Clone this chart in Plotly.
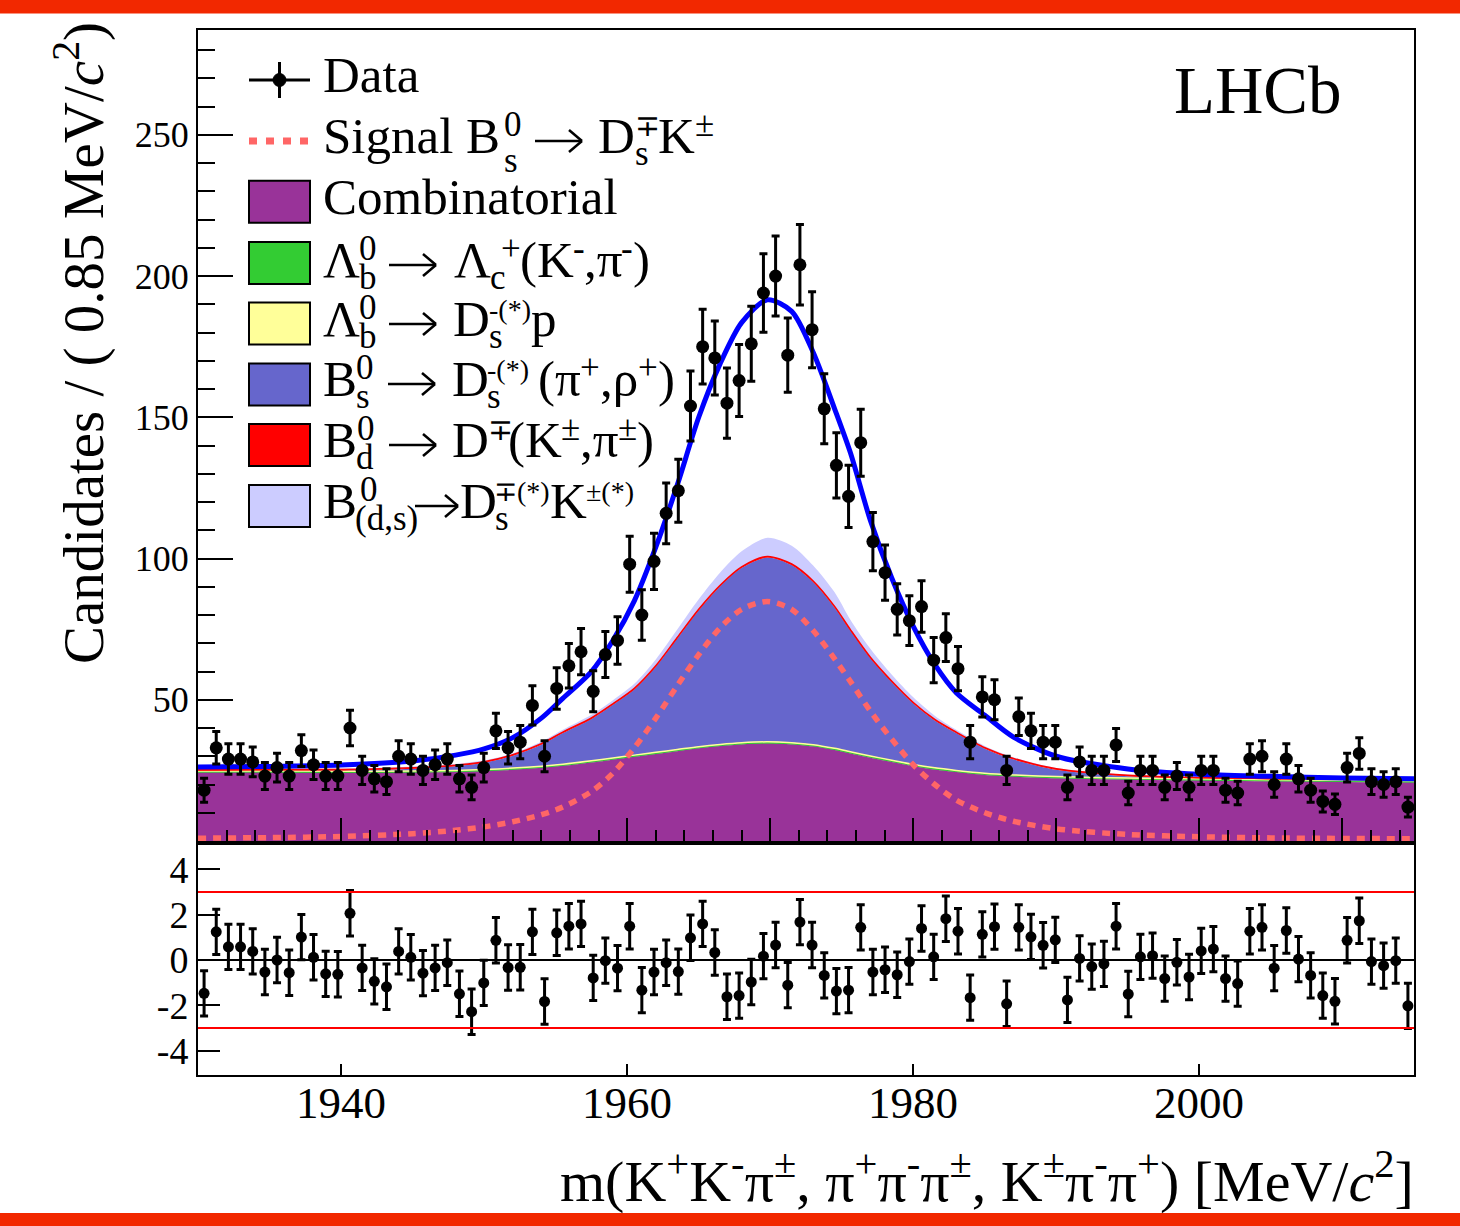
import numpy as np
import plotly.graph_objects as go

# ---------------- data ----------------
x_lo, x_hi, bin_w = 1930.0, 2015.0, 0.85
counts = [18, 33, 29, 29, 28, 23, 26, 23, 32, 27,
          23, 23, 40, 25, 22, 21, 30, 29, 25, 27,
          29, 22, 19, 26, 39, 33, 35, 48, 30, 54,
          62, 67, 53, 66, 71, 98, 80, 99, 116, 124,
          154, 175, 171, 155, 163, 176, 194, 200, 172, 204,
          181, 153, 133, 122, 141, 106, 95, 82, 78, 83,
          64, 72, 61, 35, 51, 50, 25, 44, 39, 35,
          35, 19, 28, 25, 25, 34, 17, 25, 25, 19,
          23, 19, 25, 25, 18, 17, 29, 30, 20, 29,
          22, 18, 14, 13, 26, 31, 21, 20, 21, 12]
pulls = [-1.47, 1.24, 0.58, 0.58, 0.38, -0.53, 0.00, -0.56, 1.01, 0.12,
         -0.61, -0.63, 2.06, -0.35, -0.94, -1.18, 0.38, 0.12, -0.58, -0.35,
         -0.12, -1.49, -2.28, -1.01, 0.87, -0.33, -0.32, 1.24, -1.83, 1.20,
         1.49, 1.59, -0.79, -0.03, -0.36, 1.49, -1.33, -0.53, -0.12, -0.51,
         0.98, 1.59, 0.33, -1.62, -1.57, -0.97, 0.17, 0.66, -1.11, 1.67,
         0.66, -0.68, -1.37, -1.33, 1.44, -0.53, -0.43, -0.65, -0.07, 1.39,
         0.14, 1.82, 1.27, -1.66, 1.13, 1.47, -1.93, 1.44, 1.02, 0.65,
         0.89, -1.76, 0.07, -0.29, -0.17, 1.49, -1.50, 0.14, 0.19, -0.82,
         -0.10, -0.75, 0.40, 0.48, -0.82, -1.04, 1.27, 1.44, -0.36, 1.30,
         0.04, -0.68, -1.57, -1.82, 0.87, 1.73, -0.07, -0.25, -0.03, -2.02]
bin_centers = x_lo + bin_w * (np.arange(len(counts)) + 0.5)

# fitted model components, read at these masses
curve_m = [1930, 1935, 1940, 1945, 1948, 1950, 1952, 1954, 1955.5, 1957.5,
           1959, 1960.5, 1962, 1963.5, 1965, 1966.5, 1968, 1969.8, 1971.5, 1973,
           1974.5, 1975.6, 1977, 1978.5, 1980, 1981.5, 1983, 1985, 1987, 1990,
           1995, 2000, 2005, 2010, 2015]
comb = [24.2, 24.2, 24.1, 24.2, 24.4, 24.7, 25.2, 25.9, 26.6, 27.8,
        28.8, 29.8, 30.8, 31.8, 32.8, 33.6, 34.2, 34.5, 34.2, 33.5,
        32.2, 31.0, 29.5, 28.0, 26.5, 25.3, 24.4, 23.4, 22.8, 22.2,
        21.7, 21.4, 21.1, 20.9, 20.7]
lb_lc = [0.3, 0.3, 0.3, 0.3, 0.3, 0.3, 0.3, 0.3, 0.3, 0.3,
         0.3, 0.3, 0.3, 0.3, 0.3, 0.3, 0.3, 0.3, 0.3, 0.3,
         0.3, 0.3, 0.3, 0.3, 0.3, 0.3, 0.3, 0.3, 0.3, 0.3,
         0.3, 0.3, 0.3, 0.3, 0.3]
lb_dsp = [0.3, 0.3, 0.3, 0.3, 0.3, 0.3, 0.3, 0.3, 0.3, 0.3,
          0.3, 0.3, 0.3, 0.3, 0.3, 0.3, 0.3, 0.3, 0.3, 0.3,
          0.3, 0.3, 0.3, 0.3, 0.3, 0.3, 0.3, 0.3, 0.3, 0.3,
          0.3, 0.3, 0.3, 0.3, 0.3]
bs_dspi = [0.1, 0.2, 0.3, 0.8, 1.5, 2.4, 4.4, 7.6, 11.0, 14.8,
           18.8, 23.3, 30.3, 39.3, 48.3, 56.0, 61.9, 65.3, 62.9, 57.6,
           49.9, 42.9, 34.6, 27.6, 21.6, 16.8, 13.2, 8.7, 5.5, 2.4,
           0.6, 0.1, 0.1, 0.1, 0.1]
bd_dk = [0.35, 0.35, 0.35, 0.35, 0.35, 0.35, 0.35, 0.35, 0.35, 0.35,
         0.35, 0.35, 0.35, 0.35, 0.35, 0.35, 0.35, 0.35, 0.35, 0.35,
         0.35, 0.35, 0.35, 0.35, 0.35, 0.35, 0.35, 0.35, 0.35, 0.35,
         0.35, 0.35, 0.35, 0.35, 0.35]
bds_dsk = [0.3, 0.3, 0.3, 0.4, 0.4, 0.5, 0.5, 0.7, 0.8, 1.1,
           1.3, 1.6, 2.2, 2.8, 3.5, 4.5, 5.5, 6.6, 6.5, 5.5,
           5.0, 3.5, 3.0, 2.3, 1.8, 1.3, 0.8, 0.6, 0.4, 0.3,
           0.2, 0.2, 0.2, 0.2, 0.1]
signal = [1.0, 1.2, 1.6, 2.6, 3.8, 5.0, 6.8, 9.3, 12.0, 17.5,
          24.0, 33.0, 43.5, 55.0, 66.0, 75.5, 82.0, 84.8, 82.0, 74.5,
          64.5, 56.5, 46.0, 36.0, 27.0, 20.0, 14.5, 10.0, 7.0, 4.3,
          2.3, 1.5, 1.1, 0.9, 0.8]
total = [26.2, 26.4, 26.9, 28.3, 30.4, 32.6, 36.6, 43.5, 50.5, 60.0,
         71.0, 85.0, 104.0, 126.0, 150.0, 169.0, 183.5, 191.6, 187.5, 173.0,
         153.0, 137.5, 113.5, 93.0, 76.0, 62.5, 52.5, 44.5, 36.8, 30.0,
         25.5, 23.6, 22.9, 22.3, 22.0]

main_yticks = [50, 100, 150, 200, 250]
pull_yticks = [-4, -2, 0, 2, 4]
pull_yticklabels = ["-4", "-2", "0", "2", "4"]
xticks_major = [1940, 1950, 1960, 1970, 1980, 1990, 2000, 2010]
xticks_labeled = [1940, 1960, 1980, 2000]

# legend text pieces: (text, role) ; role m=main, u=superscript, d=subscript, a=arrow
legend_rows = [
    [("Data", "m")],
    [("Signal B", "m"), ("0", "u"), ("s", "d"), ("→", "a"), ("D", "m"), ("∓", "u"),
     ("s", "d"), ("K", "m"), ("±", "u")],
    [("Combinatorial", "m")],
    [("Λ", "m"), ("0", "u"), ("b", "d"), ("→", "a"), ("Λ", "m"), ("c", "d"), ("+", "u"),
     ("(K", "m"), ("-", "u"), (",π", "m"), ("-", "u"), (")", "m")],
    [("Λ", "m"), ("0", "u"), ("b", "d"), ("→", "a"), ("D", "m"), ("-(*)", "u"),
     ("s", "d"), ("p", "m")],
    [("B", "m"), ("0", "u"), ("s", "d"), ("→", "a"), ("D", "m"), ("-(*)", "u"),
     ("s", "d"), ("(π", "m"), ("+", "u"), (",ρ", "m"), ("+", "u"), (")", "m")],
    [("B", "m"), ("0", "u"), ("d", "d"), ("→", "a"), ("D", "m"), ("∓", "u"),
     ("(K", "m"), ("±", "u"), (",π", "m"), ("±", "u"), (")", "m")],
    [("B", "m"), ("0", "u"), ("(d,s)", "d"), ("→", "a"), ("D", "m"), ("∓(*)", "u"),
     ("s", "d"), ("K", "m"), ("±(*)", "u")],
]

# ---------------- layout (pixels) ----------------
W, H = 1460, 1226
FONT = "Liberation Serif"
C_COMB, C_LBLC, C_LBDSP = "#993399", "#33cc33", "#ffff99"
C_BSDSPI, C_BDDK, C_BDSDSK = "#6666cc", "#ff0000", "#ccccff"
C_SIG, C_TOT = "#ff6666", "#0000ff"
C_BAND = "#f22800"

# legend piece x positions (left edges, px) ; arrows given as (x0, x1)
legend_x = [
    [322],
    [322, 503, 503, (535, 582), 597, 634, 634, 657, 694],
    [322],
    [322, 358, 358, (389, 436), 453, 489, 500, 519, 572, 583, 620, 632],
    [322, 358, 358, (389, 436), 452, 488, 488, 530],
    [322, 355, 355, (388, 435), 451, 486, 486, 537, 579, 599, 637, 657],
    [322, 356, 355, (389, 436), 451, 487, 507, 560, 579, 617, 636],
    [322, 359, 354, (415, 458), 459, 493, 494, 549, 585],
]
legend_baselines = [92, 153, 214, 277, 336, 396, 457, 518]
first_sub_drop = {1: 19}


def fx(p):
    return p / W


def fy(p):
    return 1 - p / H


fig = go.Figure()

bkg = [
    (comb, C_COMB, C_COMB, 0.5),
    (lb_lc, C_LBLC, C_LBLC, 1.5),
    (lb_dsp, C_LBDSP, C_LBDSP, 1.5),
    (bs_dspi, C_BSDSPI, C_BSDSPI, 0),
    (bd_dk, C_BDDK, C_BDDK, 1.5),
    (bds_dsk, C_BDSDSK, C_BDSDSK, 0),
]
for vals, fc, lc, lw in bkg:
    fig.add_trace(go.Scatter(
        x=curve_m, y=vals, stackgroup="bkg", mode="lines",
        fillcolor=fc, line=dict(color=lc, width=lw, shape="spline", smoothing=0.8),
        showlegend=False, hoverinfo="skip", xaxis="x", yaxis="y"))

fig.add_trace(go.Scatter(
    x=curve_m, y=signal, mode="lines",
    line=dict(color=C_SIG, width=5.5, dash="8px,7px", shape="spline", smoothing=0.8),
    showlegend=False, hoverinfo="skip", xaxis="x", yaxis="y"))
fig.add_trace(go.Scatter(
    x=curve_m, y=total, mode="lines",
    line=dict(color=C_TOT, width=5, shape="spline", smoothing=0.8),
    showlegend=False, hoverinfo="skip", xaxis="x", yaxis="y"))

fig.add_trace(go.Scatter(
    x=bin_centers, y=counts, mode="markers",
    marker=dict(color="black", size=13, symbol="circle"),
    error_y=dict(type="sqrt", color="black", thickness=3, width=4),
    showlegend=False, xaxis="x", yaxis="y"))

fig.add_trace(go.Scatter(
    x=bin_centers, y=pulls, mode="markers",
    marker=dict(color="black", size=11, symbol="circle"),
    error_y=dict(type="constant", value=1, color="black", thickness=3, width=4),
    showlegend=False, xaxis="x2", yaxis="y2"))

axis_common = dict(showline=True, linecolor="black", linewidth=2, mirror=True,
                   showgrid=False, zeroline=False, ticks="inside",
                   tickcolor="black", tickwidth=2)

x_dom = [fx(198), fx(1414)]
fig.update_layout(
    width=W, height=H, autosize=False,
    margin=dict(l=0, r=0, t=0, b=0),
    paper_bgcolor="white", plot_bgcolor="white",
    font=dict(family=FONT, color="black"),
    xaxis=dict(domain=x_dom, anchor="y", range=[x_lo, x_hi],
               tickmode="array", tickvals=xticks_major, ticklen=23,
               showticklabels=False,
               minor=dict(dtick=2, tick0=1930, ticklen=11, tickwidth=2,
                          tickcolor="black", ticks="inside"),
               **axis_common),
    yaxis=dict(domain=[fy(841), fy(30)], anchor="x", range=[0, 287.1],
               tickmode="array", tickvals=main_yticks,
               ticktext=[str(v) for v in main_yticks], ticklen=35,
               tickfont=dict(family=FONT, size=36, color="black"),
               minor=dict(dtick=10, tick0=0, ticklen=17, tickwidth=2,
                          tickcolor="black", ticks="inside"),
               **axis_common),
    xaxis2=dict(domain=x_dom, anchor="y2", range=[x_lo, x_hi], matches="x",
                tickmode="array", tickvals=xticks_labeled, ticklen=11,
                showticklabels=False, **axis_common),
    yaxis2=dict(domain=[fy(1075), fy(845)], anchor="x2", range=[-5.07, 5.07],
                tickmode="array", tickvals=pull_yticks, ticktext=pull_yticklabels,
                ticklen=22, tickfont=dict(family=FONT, size=38, color="black"),
                **axis_common),
)

shapes = []
annotations = []

# pull reference lines
shapes.append(dict(type="line", xref="x2 domain", yref="y2", x0=0, x1=1, y0=0, y1=0,
                   line=dict(color="black", width=2)))
for v in (3, -3):
    shapes.append(dict(type="line", xref="x2 domain", yref="y2", x0=0, x1=1, y0=v, y1=v,
                       line=dict(color="red", width=2)))
# red page bands
shapes.append(dict(type="rect", xref="paper", yref="paper", x0=0, x1=1,
                   y0=fy(13.5), y1=1, fillcolor=C_BAND, line=dict(width=0)))
shapes.append(dict(type="rect", xref="paper", yref="paper", x0=0, x1=1,
                   y0=0, y1=fy(1213), fillcolor=C_BAND, line=dict(width=0)))

# x tick labels of the pull panel
for v in xticks_labeled:
    annotations.append(dict(text=str(v), xref="x2", yref="paper", x=v, y=fy(1103),
                            xanchor="center", yanchor="middle", showarrow=False,
                            font=dict(family=FONT, size=45, color="black")))

# legend symbols
lx0, lx1 = 249, 310
shapes.append(dict(type="line", xref="paper", yref="paper", x0=fx(lx0), x1=fx(lx1),
                   y0=fy(80), y1=fy(80), line=dict(color="black", width=3)))
shapes.append(dict(type="line", xref="paper", yref="paper", x0=fx(279.5), x1=fx(279.5),
                   y0=fy(62), y1=fy(98), line=dict(color="black", width=3)))
shapes.append(dict(type="circle", xref="paper", yref="paper", x0=fx(273), x1=fx(286),
                   y0=fy(86.5), y1=fy(73.5), fillcolor="black", line=dict(color="black", width=1)))
shapes.append(dict(type="line", xref="paper", yref="paper", x0=fx(lx0), x1=fx(lx1),
                   y0=fy(141), y1=fy(141), line=dict(color=C_SIG, width=7, dash="8px,9px")))
box_colors = [C_COMB, C_LBLC, C_LBDSP, C_BSDSPI, C_BDDK, C_BDSDSK]
box_centers = [201.7, 263, 323.5, 384.5, 445, 506]
for c, yc in zip(box_colors, box_centers):
    shapes.append(dict(type="rect", xref="paper", yref="paper", x0=fx(lx0), x1=fx(lx1),
                       y0=fy(yc + 21), y1=fy(yc - 21), fillcolor=c,
                       line=dict(color="black", width=2)))

# legend texts, built piece by piece so scripts stack like the original
MAIN_SIZE, SCRIPT_SIZE = 51, 35
for ri, (row, xs, base) in enumerate(zip(legend_rows, legend_x, legend_baselines)):
    first_sub = True
    for (txt, role), xp in zip(row, xs):
        if role == "a":
            ya = base - 12
            x0, x1 = xp
            shapes.append(dict(type="line", xref="paper", yref="paper",
                               x0=fx(x0), x1=fx(x1), y0=fy(ya), y1=fy(ya),
                               line=dict(color="black", width=2.5)))
            for dy in (-11, 11):
                shapes.append(dict(type="line", xref="paper", yref="paper",
                                   x0=fx(x1 - 13), x1=fx(x1), y0=fy(ya + dy), y1=fy(ya),
                                   line=dict(color="black", width=2.5)))
            continue
        if role == "m":
            size, bl = MAIN_SIZE, base
        elif role == "u":
            size, bl = SCRIPT_SIZE, base - 17
        else:
            drop = first_sub_drop.get(ri, 12) if first_sub else 12
            first_sub = False
            size, bl = SCRIPT_SIZE, base + drop
        if role == "u" and "(" in txt:
            size = 28
        elif role == "u" and "∓" in txt:
            size = 30
        yc = bl - 0.3375 * size
        annotations.append(dict(text=txt, xref="paper", yref="paper", x=fx(xp), y=fy(yc),
                                xanchor="left", yanchor="middle", showarrow=False,
                                borderpad=0,
                                font=dict(family=FONT, size=size, color="black")))

annotations.append(dict(text="LHCb", xref="paper", yref="paper", x=fx(1172), y=fy(90),
                        xanchor="left", yanchor="middle", showarrow=False,
                        font=dict(family=FONT, size=67, color="black")))
annotations.append(dict(text="Candidates / ( 0.85 MeV/<i>c</i><sup>2</sup>)",
                        xref="paper", yref="paper", x=fx(80), y=fy(20),
                        xanchor="center", yanchor="top", textangle=-90, showarrow=False,
                        font=dict(family=FONT, size=57, color="black")))
annotations.append(dict(
    text="m(K<sup>+</sup>K<sup>-</sup>π<sup>±</sup>, π<sup>+</sup>π<sup>-</sup>π<sup>±</sup>, "
         "K<sup>±</sup>π<sup>-</sup>π<sup>+</sup>) [MeV/<i>c</i><sup>2</sup>]",
    xref="paper", yref="paper", x=fx(1416), y=fy(1177),
    xanchor="right", yanchor="middle", showarrow=False,
    font=dict(family=FONT, size=58, color="black")))

fig.update_layout(shapes=shapes, annotations=annotations)
fig.write_html("out.html")
